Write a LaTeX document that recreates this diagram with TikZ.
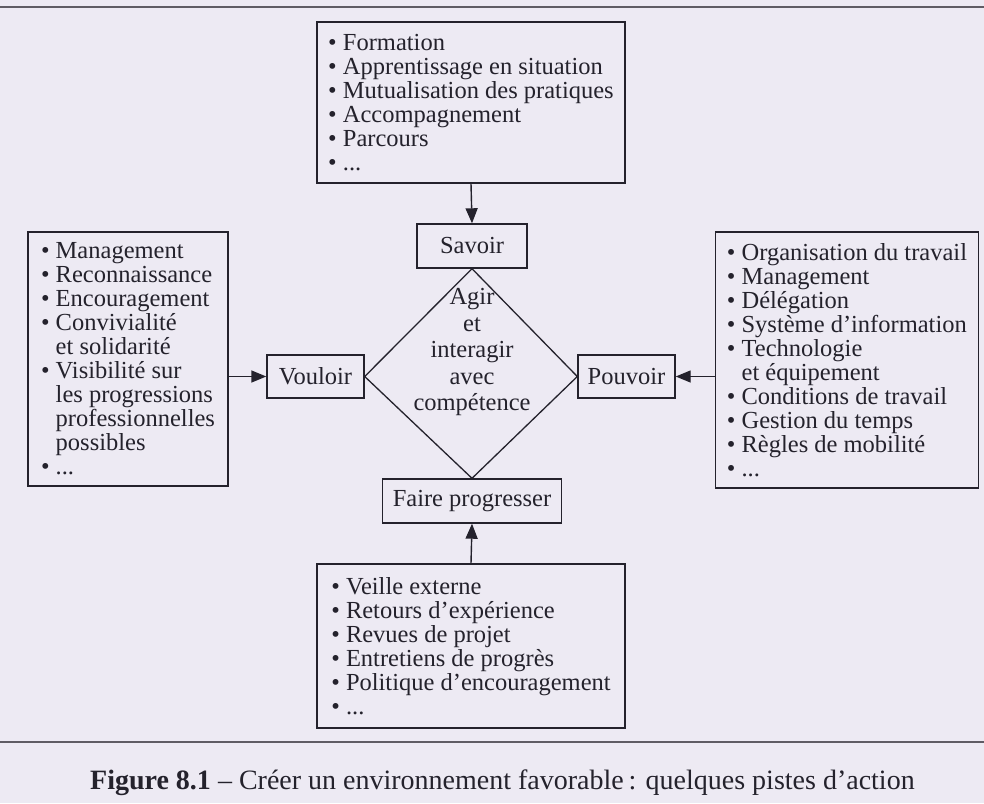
\documentclass[tikz,border=0pt]{standalone}
\usepackage{fontspec}
\usepackage{graphicx}
\setmainfont{Liberation Serif}
\usetikzlibrary{arrows.meta}
\definecolor{bgcol}{RGB}{237,234,243}
\definecolor{inkcol}{RGB}{36,34,44}
\definecolor{rulecol}{RGB}{95,92,100}
\newcommand{\bu}{\makebox[0.6em][l]{\textbullet}}
\newcommand{\ind}{\hspace*{0.6em}}
\begin{document}
\begin{tikzpicture}[x=1pt,y=-1pt,
  txt/.style={font={\fontsize{24.5}{24}\selectfont}, text=inkcol},
  listbox/.style={txt, draw=inkcol, line width=1.4pt, align=left, inner sep=0pt},
  labbox/.style={txt, draw=inkcol, line width=1.4pt, align=center, inner sep=0pt},
  conn/.style={draw=inkcol, line width=1.4pt, -{Triangle[length=15pt,width=12pt]}}]
\fill[bgcol] (0,0) rectangle (984,803);
\useasboundingbox (0,0) rectangle (984,803);
\draw[rulecol, line width=2.5pt] (0,7) -- (984,7);
\draw[rulecol, line width=2pt] (0,742) -- (984,742);

% list boxes
\node[listbox, minimum width=308pt, minimum height=161pt] (T) at (471,102.5) {%
\bu Formation\\ \bu Apprentissage en situation\\ \bu Mutualisation des pratiques\\ \bu Accompagnement\\ \bu Parcours\\ \bu ...};
\node[listbox, minimum width=200pt, minimum height=254pt] (L) at (128,359) {%
\bu Management\\ \bu Reconnaissance\\ \bu Encouragement\\ \bu Convivialité\\ \ind et solidarité\\ \bu Visibilité sur\\ \ind les progressions\\ \ind professionnelles\\ \ind possibles\\ \bu ...};
\node[listbox, minimum width=263pt, minimum height=256pt] (R) at (847,360) {%
\bu Organisation du travail\\ \bu Management\\ \bu Délégation\\ \bu Système d’information\\ \bu Technologie\\ \ind et équipement\\ \bu Conditions de travail\\ \bu Gestion du temps\\ \bu Règles de mobilité\\ \bu ...};
\node[listbox, minimum width=308pt, minimum height=164pt] (B) at (471,646) {%
\bu Veille externe\\ \bu Retours d’expérience\\ \bu Revues de projet\\ \bu Entretiens de progrès\\ \bu Politique d’encouragement\\ \bu ...};

% label boxes
\node[labbox, minimum width=110pt, minimum height=44pt] (S) at (472,246) {Savoir};
\node[labbox, minimum width=97pt, minimum height=43pt] (V) at (315.5,376.5) {Vouloir};
\node[labbox, minimum width=97pt, minimum height=43pt] (P) at (626.5,376.5) {Pouvoir};
\node[labbox, minimum width=179pt, minimum height=44pt] (F) at (472,501) {Faire progresser};

% diamond
\draw[inkcol, line width=1.3pt, line join=miter] (S.south) -- (P.west) -- (F.north) -- (V.east) -- cycle;
\node[txt, align=center, font={\fontsize{24.5}{26.5}\selectfont}] (D) at (472,352) {Agir\\ et\\ interagir\\ avec\\ compétence};

% connectors
\draw[conn] (T.south) -- (S.north);
\draw[conn] (B.north) -- (F.south);
\draw[conn] (L.east |- V.west) -- (V.west);
\draw[conn] (R.west |- P.east) -- (P.east);

% caption
\node[anchor=base west, inner sep=0pt, text=inkcol, font={\fontsize{28}{30}\selectfont}] (C) at (90,789)
 {\textbf{Figure 8.1} – Créer un environnement favorable\,: quelques pistes d’action};
\end{tikzpicture}
\end{document}
